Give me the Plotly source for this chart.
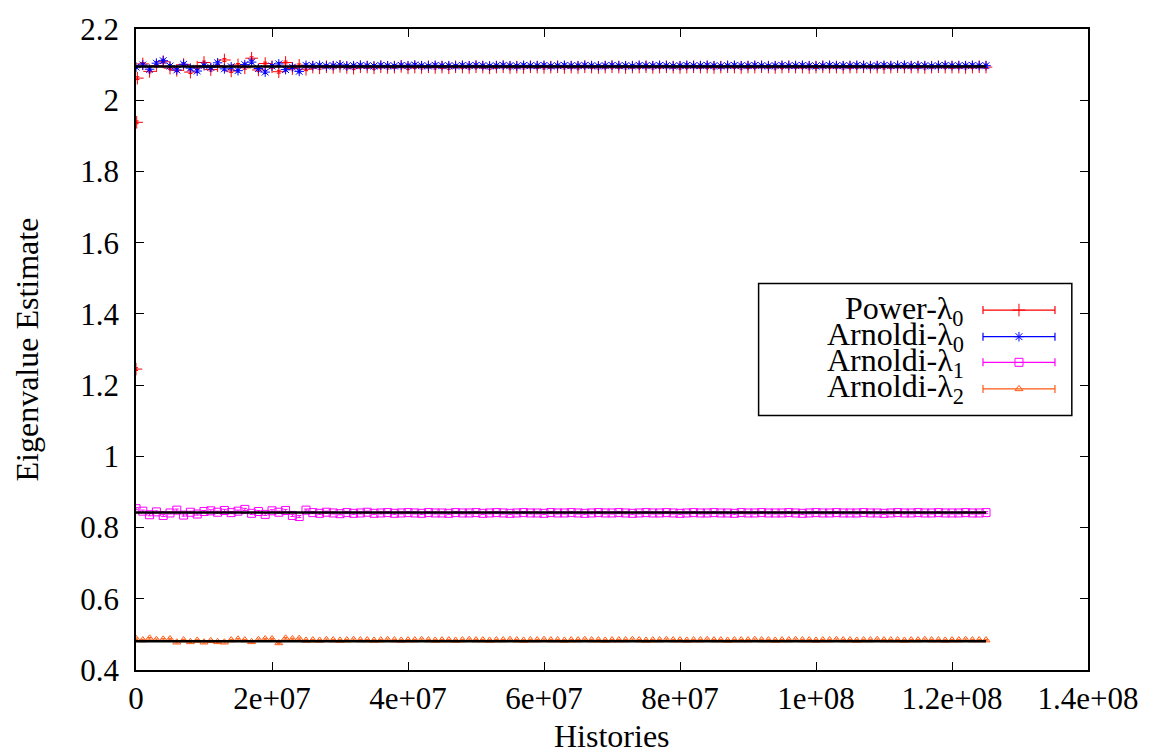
import plotly.graph_objects as go

# Histories accumulated at the end of each cycle (1e6 histories per cycle)
histories = [k * 1.0e6 for k in range(126)]

# Power iteration starts from a flat source: first few short cycles
power_start_histories = [0.0, 1.0e5, 2.0e5]
power_start_l0 = [1.245, 1.938, 2.062]

power_l0 = [
    2.102, 2.081, 2.097, 2.108, 2.090, 2.084, 2.100, 2.079, 2.093, 2.106,
    2.086, 2.097, 2.113, 2.082, 2.099, 2.091, 2.118, 2.085, 2.103, 2.094,
    2.080, 2.106, 2.089, 2.098, 2.087,
    2.093, 2.091, 2.094, 2.092, 2.095, 2.092, 2.090, 2.094, 2.093, 2.091,
    2.094, 2.092, 2.093, 2.095, 2.091, 2.093, 2.092, 2.094, 2.092, 2.093,
    2.091, 2.094, 2.093, 2.092, 2.094, 2.093, 2.091, 2.093, 2.094, 2.092,
    2.093, 2.092, 2.094, 2.093, 2.092, 2.093, 2.094, 2.092, 2.093, 2.092,
    2.094, 2.093, 2.092, 2.093, 2.094, 2.093, 2.092, 2.093, 2.093, 2.094,
    2.092, 2.093, 2.094, 2.093, 2.092, 2.093, 2.094, 2.093, 2.093, 2.092,
    2.093, 2.094, 2.093, 2.092, 2.093, 2.093, 2.094, 2.093, 2.092, 2.093,
    2.094, 2.093, 2.093, 2.092, 2.093, 2.094, 2.093, 2.093, 2.092, 2.093,
    2.093, 2.094, 2.093, 2.093, 2.092, 2.093, 2.094, 2.093, 2.093, 2.093,
    2.092, 2.093, 2.094, 2.093, 2.093, 2.093, 2.092, 2.093, 2.094, 2.093,
]

arnoldi_l0 = [
    2.093, 2.099, 2.087, 2.104, 2.111, 2.096, 2.085, 2.101, 2.090, 2.082,
    2.097, 2.092, 2.105, 2.088, 2.094, 2.083, 2.100, 2.107, 2.089, 2.079,
    2.096, 2.102, 2.086, 2.093, 2.081, 2.098,
    2.097, 2.098, 2.096, 2.097, 2.099, 2.096, 2.097, 2.098, 2.097, 2.096,
    2.098, 2.097, 2.096, 2.098, 2.097, 2.099, 2.097, 2.096, 2.098, 2.097,
    2.097, 2.096, 2.098, 2.097, 2.098, 2.097, 2.096, 2.097, 2.098, 2.097,
    2.096, 2.098, 2.097, 2.097, 2.098, 2.096, 2.097, 2.098, 2.097, 2.097,
    2.098, 2.097, 2.096, 2.097, 2.098, 2.097, 2.097, 2.096, 2.098, 2.097,
    2.097, 2.098, 2.097, 2.096, 2.097, 2.098, 2.097, 2.097, 2.098, 2.097,
    2.096, 2.097, 2.098, 2.097, 2.097, 2.098, 2.097, 2.096, 2.097, 2.098,
    2.097, 2.097, 2.098, 2.097, 2.096, 2.097, 2.098, 2.097, 2.097, 2.097,
    2.098, 2.097, 2.096, 2.097, 2.098, 2.097, 2.097, 2.098, 2.097, 2.097,
    2.097, 2.096, 2.097, 2.098, 2.097, 2.097, 2.097, 2.098, 2.097, 2.097,
]

arnoldi_l1 = [
    0.853, 0.846, 0.836, 0.844, 0.834, 0.841, 0.849, 0.835, 0.843, 0.838,
    0.845, 0.847, 0.843, 0.848, 0.842, 0.846, 0.851, 0.840, 0.845, 0.837,
    0.847, 0.843, 0.848, 0.834, 0.831, 0.849,
    0.842, 0.840, 0.843, 0.841, 0.839, 0.842, 0.840, 0.841, 0.843, 0.840,
    0.841, 0.842, 0.840, 0.841, 0.842, 0.841, 0.840, 0.842, 0.841, 0.841,
    0.840, 0.842, 0.841, 0.841, 0.842, 0.840, 0.841, 0.842, 0.841, 0.840,
    0.841, 0.842, 0.841, 0.841, 0.840, 0.842, 0.841, 0.841, 0.842, 0.841,
    0.840, 0.841, 0.842, 0.841, 0.841, 0.842, 0.841, 0.840, 0.841, 0.842,
    0.841, 0.841, 0.842, 0.841, 0.840, 0.841, 0.842, 0.841, 0.841, 0.842,
    0.841, 0.841, 0.840, 0.842, 0.841, 0.841, 0.842, 0.841, 0.841, 0.841,
    0.842, 0.841, 0.840, 0.841, 0.842, 0.841, 0.841, 0.842, 0.841, 0.841,
    0.841, 0.842, 0.841, 0.841, 0.840, 0.841, 0.842, 0.841, 0.841, 0.842,
    0.841, 0.841, 0.842, 0.841, 0.841, 0.841, 0.842, 0.841, 0.841, 0.842,
]

arnoldi_l2 = [
    0.488, 0.484, 0.489, 0.485, 0.486, 0.487, 0.478, 0.484, 0.479, 0.483,
    0.478, 0.482, 0.479, 0.478, 0.484, 0.486, 0.484, 0.479, 0.485, 0.487,
    0.487, 0.476, 0.489, 0.487, 0.488, 0.483,
    0.484, 0.483, 0.485, 0.484, 0.483, 0.484, 0.485, 0.484, 0.484, 0.483,
    0.484, 0.485, 0.484, 0.483, 0.484, 0.484, 0.485, 0.484, 0.483, 0.484,
    0.484, 0.483, 0.484, 0.485, 0.484, 0.484, 0.483, 0.484, 0.484, 0.485,
    0.484, 0.483, 0.484, 0.484, 0.485, 0.484, 0.484, 0.483, 0.484, 0.484,
    0.485, 0.484, 0.484, 0.483, 0.484, 0.484, 0.484, 0.485, 0.484, 0.483,
    0.484, 0.484, 0.485, 0.484, 0.484, 0.483, 0.484, 0.484, 0.485, 0.484,
    0.484, 0.483, 0.484, 0.484, 0.484, 0.485, 0.484, 0.484, 0.483, 0.484,
    0.484, 0.485, 0.484, 0.484, 0.483, 0.484, 0.484, 0.485, 0.484, 0.484,
    0.483, 0.484, 0.484, 0.485, 0.484, 0.484, 0.484, 0.483, 0.484, 0.484,
    0.485, 0.484, 0.484, 0.483, 0.484, 0.484, 0.485, 0.484, 0.484, 0.484,
]

# One-sigma statistical uncertainty of each estimator
power_sigma = 0.004
arnoldi_l0_sigma = 0.004
arnoldi_l1_sigma = 0.003
arnoldi_l2_sigma = 0.002

# Converged reference eigenvalues
reference_values = [2.095, 0.842, 0.481]

x_tick_values = [0, 2e7, 4e7, 6e7, 8e7, 1e8, 1.2e8, 1.4e8]
x_tick_labels = ["0", "2e+07", "4e+07", "6e+07", "8e+07", "1e+08", "1.2e+08", "1.4e+08"]
y_tick_values = [0.4, 0.6, 0.8, 1.0, 1.2, 1.4, 1.6, 1.8, 2.0, 2.2]
y_tick_labels = ["0.4", "0.6", "0.8", "1", "1.2", "1.4", "1.6", "1.8", "2", "2.2"]

series_names = ["Power-λ<sub>0</sub>", "Arnoldi-λ<sub>0</sub>",
                "Arnoldi-λ<sub>1</sub>", "Arnoldi-λ<sub>2</sub>"]

FONT = "Liberation Serif"
TICK_FS, TITLE_FS, KEY_FS = 31, 32, 32
RED, BLUE, MAGENTA, ORANGE = "#ff0000", "#0000ff", "#ff00ff", "#ff5a14"
colors = [RED, BLUE, MAGENTA, ORANGE]
symbols = ["cross-thin-open", "asterisk-open", "square-open", "triangle-up-open"]
sizes = [9, 8, 8, 7]

fig = go.Figure()

series = [
    (power_start_histories + histories[1:], power_start_l0 + power_l0, power_sigma),
    (histories, arnoldi_l0, arnoldi_l0_sigma),
    (histories, arnoldi_l1, arnoldi_l1_sigma),
    (histories, arnoldi_l2, arnoldi_l2_sigma),
]

for (xs, ys, sig), color, sym, size in zip(series, colors, symbols, sizes):
    fig.add_trace(go.Scatter(
        x=xs, y=ys, mode="markers", showlegend=False,
        marker=dict(symbol=sym, size=size, color=color,
                    line=dict(color=color, width=1)),
        error_y=dict(type="constant", value=sig, color=color,
                     thickness=1, width=2),
    ))

# Reference eigenvalue lines over the sampled range
for val in reference_values:
    fig.add_trace(go.Scatter(
        x=[histories[0], histories[-1]], y=[val, val], mode="lines",
        showlegend=False, line=dict(color="black", width=2.5),
    ))

# Key: error-bar samples drawn on an overlay axis spanning the plot area
row_y = [0.5615, 0.5200, 0.4800, 0.4385]
for name, color, sym, size, yy in zip(series_names, colors, symbols, sizes, row_y):
    fig.add_trace(go.Scatter(
        x=[0.9275], y=[yy], xaxis="x2", yaxis="y2", mode="markers",
        showlegend=False,
        marker=dict(symbol=sym, size=size, color=color,
                    line=dict(color=color, width=1)),
        error_x=dict(type="constant", value=0.0378, color=color,
                     thickness=1.2, width=4),
    ))
    fig.add_annotation(
        x=0.872, y=yy, xref="paper", yref="paper", text=name,
        showarrow=False, xanchor="right", yanchor="middle",
        font=dict(family=FONT, size=KEY_FS, color="black"),
    )

fig.add_shape(type="rect", xref="paper", yref="paper",
              x0=0.654, x1=0.983, y0=0.397, y1=0.603,
              line=dict(color="black", width=1.5), fillcolor="rgba(0,0,0,0)")

axis_common = dict(
    showline=True, linecolor="black", linewidth=1.5, mirror="allticks",
    ticks="inside", ticklen=8, tickwidth=1, tickcolor="black",
    showgrid=False, zeroline=False,
    tickfont=dict(family=FONT, size=TICK_FS, color="black"),
)

fig.update_layout(
    width=1160, height=753,
    margin=dict(l=136, r=72, t=20, b=83),
    paper_bgcolor="white", plot_bgcolor="white",
    showlegend=False,
    xaxis=dict(range=[0, 1.4e8], tickvals=x_tick_values, ticktext=x_tick_labels,
               **axis_common),
    yaxis=dict(range=[0.4, 2.2], tickvals=y_tick_values, ticktext=y_tick_labels,
               ticklabelstandoff=9, **axis_common),
    xaxis2=dict(range=[0, 1], overlaying="x", visible=False, fixedrange=True),
    yaxis2=dict(range=[0, 1], overlaying="y", visible=False, fixedrange=True),
)

fig.add_annotation(x=0.5, y=-0.103, xref="paper", yref="paper", text="Histories",
                   showarrow=False, xanchor="center", yanchor="middle",
                   font=dict(family=FONT, size=TITLE_FS, color="black"))
fig.add_annotation(x=-0.1145, y=0.5, xref="paper", yref="paper",
                   text="Eigenvalue Estimate", textangle=-90,
                   showarrow=False, xanchor="center", yanchor="middle",
                   font=dict(family=FONT, size=TITLE_FS, color="black"))

fig.write_html("out.html")
